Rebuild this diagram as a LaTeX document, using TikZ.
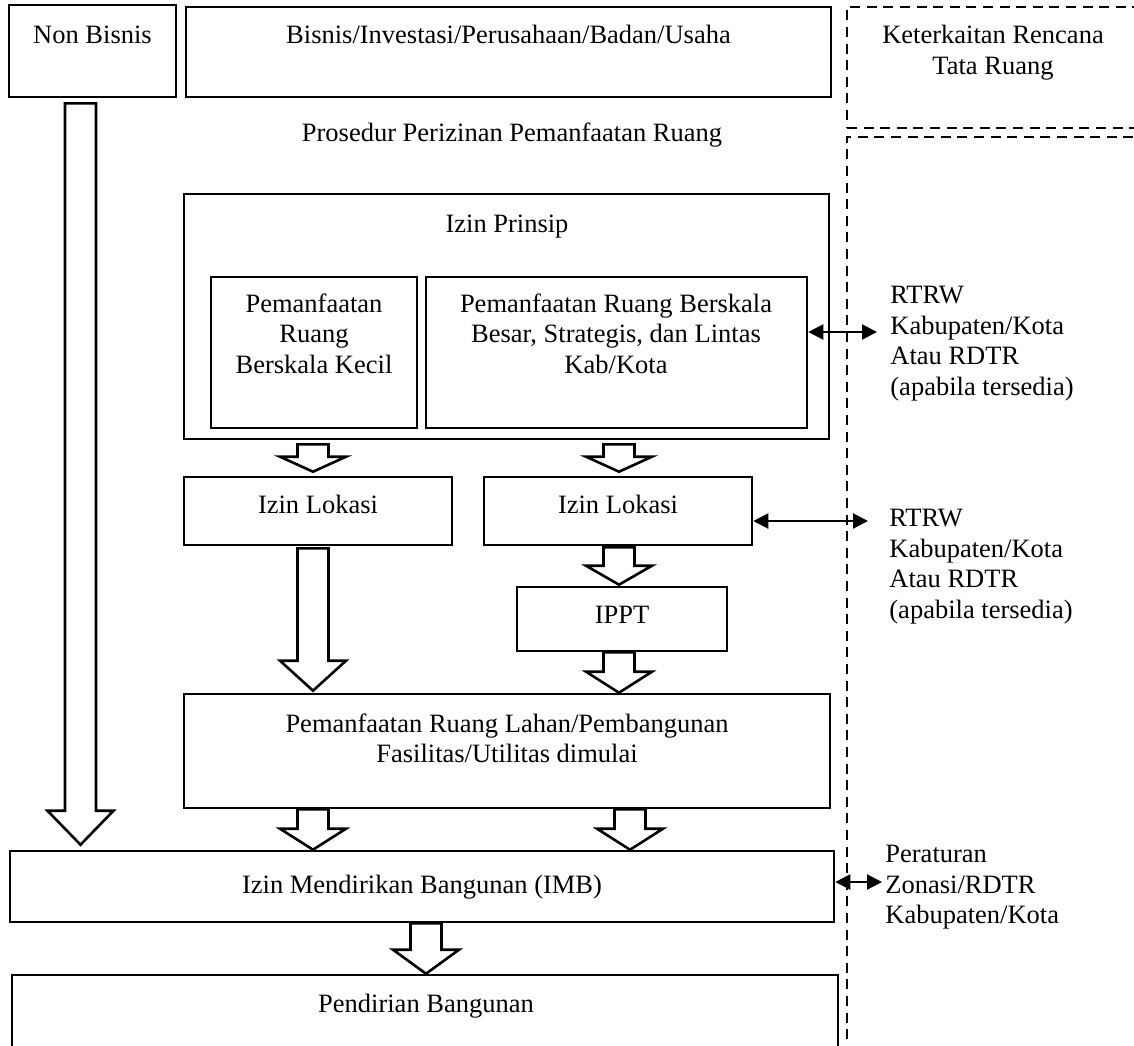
\documentclass[tikz,border=0pt]{standalone}
\usepackage{fontspec}
\setmainfont{Liberation Serif}
\usetikzlibrary{arrows.meta, calc, fit}

\newcommand{\hollowarrow}[5]{%
  \coordinate (ha) at ($(#2.south -| #1)+(0,#5)$);
  \coordinate (hb) at ($(#3.north -| #1)+(0,-#5)$);
  \draw[hollow] ($(ha)+(-15.5,0)$) -- ($(hb)+(-15.5,-#4)$) -- ($(hb)+(-33,-#4)$) -- (hb)
    -- ($(hb)+(33,-#4)$) -- ($(hb)+(15.5,-#4)$) -- ($(ha)+(15.5,0)$) -- cycle;
}

\begin{document}
\begin{tikzpicture}[x=0.5pt, y=-0.5pt,
    every node/.style={font=\fontsize{13.25pt}{15.25pt}\selectfont, inner sep=0pt},
    box/.style={draw, line width=1.3pt},
    guide/.style={line width=1.2pt, dash pattern=on 5pt off 3.3pt},
    hollow/.style={line width=1.3pt, line join=miter},
    twoway/.style={line width=1.1pt, {Triangle[length=7.5pt,width=7.5pt]}-{Triangle[length=7.5pt,width=7.5pt]}}]
    \useasboundingbox (0,0) rectangle (1134,1045);

    % boxes
    \node[box, fit={(9,5) (176,97)}] (nonbisnis) {};
    \node[anchor=base] (nonbisnisL) at (92.5,43) {Non Bisnis};
    \node[box, fit={(186,7) (831,97)}] (bisnis) {};
    \node[anchor=base] (bisnisL) at (508.5,43) {Bisnis/Investasi/Perusahaan/Badan/Usaha};
    \node[guide, draw, fit={(847,7) (1150,128)}] (kaitan) {};
    \node[anchor=north, align=center] (kaitanL) at (993,25) {Keterkaitan Rencana\\Tata Ruang};
    \draw[guide] (1150,137) -- (847,137) -- (847,1070);

    \node[anchor=base] (prosedur) at (512,141) {Prosedur Perizinan Pemanfaatan Ruang};

    \node[box, fit={(184,194) (829,439)}] (prinsip) {};
    \node[anchor=base] (prinsipL) at (507,232) {Izin Prinsip};
    \node[box, fit={(211,277) (417,428)}] (kecil) {};
    \node[anchor=north, align=center] (kecilL) at (314,293) {Pemanfaatan\\Ruang\\Berskala Kecil};
    \node[box, fit={(426,277) (807,428)}] (besar) {};
    \node[anchor=north, align=center] (besarL) at (616,293) {Pemanfaatan Ruang Berskala\\Besar, Strategis, dan Lintas\\Kab/Kota};

    \node[box, fit={(184,477) (452,545)}] (lokasiA) {};
    \node[anchor=base] (lokasiAL) at (318,513) {Izin Lokasi};
    \node[box, fit={(484,477) (752,545)}] (lokasiB) {};
    \node[anchor=base] (lokasiBL) at (618,513) {Izin Lokasi};
    \node[box, fit={(517,587) (727,651)}] (ippt) {};
    \node[anchor=base] (ipptL) at (622,623) {IPPT};

    \node[box, fit={(184,694) (830,808)}] (lahan) {};
    \node[anchor=north, align=center] (lahanL) at (507,713) {Pemanfaatan Ruang Lahan/Pembangunan\\Fasilitas/Utilitas dimulai};
    \node[box, fit={(10,851) (834,922)}] (imb) {};
    \node[anchor=base] (imbL) at (422,893) {Izin Mendirikan Bangunan (IMB)};
    \node[box, fit={(12,975) (838,1070)}] (pendirian) {};
    \node[anchor=base] (pendirianL) at (426,1012) {Pendirian Bangunan};

    % rencana tata ruang
    \node[anchor=north west, align=left] (rtrwA) at (890,286) {RTRW\\Kabupaten/Kota\\Atau RDTR\\(apabila tersedia)};
    \node[anchor=north west, align=left] (rtrwB) at (889,509) {RTRW\\Kabupaten/Kota\\Atau RDTR\\(apabila tersedia)};
    \node[anchor=north west, align=left] (zonasi) at (885,845) {Peraturan\\Zonasi/RDTR\\Kabupaten/Kota};
    \coordinate (tipA) at (877,332);
    \coordinate (tipB) at (868,521);
    \coordinate (tipC) at (882,882);
    \draw[twoway] (besar.east |- tipA) -- (tipA);
    \draw[twoway] (lokasiB.east |- tipB) -- (tipB);
    \draw[twoway] (imb.east |- tipC) -- (tipC);

    % block arrows
    \coordinate (colN) at (80.5,0);
    \coordinate (colA) at (313,0);
    \coordinate (colB) at (619,0);
    \coordinate (colC) at (630,0);
    \coordinate (colD) at (426,0);
    \hollowarrow{colN}{nonbisnis}{imb}{34}{5}
    \hollowarrow{colA}{prinsip}{lokasiA}{15}{4}
    \hollowarrow{colB}{prinsip}{lokasiB}{15}{4}
    \hollowarrow{colA}{lokasiA}{lahan}{30}{2}
    \hollowarrow{colB}{lokasiB}{ippt}{19}{1}
    \hollowarrow{colB}{ippt}{lahan}{21}{0}
    \hollowarrow{colA}{lahan}{imb}{21}{0}
    \hollowarrow{colC}{lahan}{imb}{21}{0}
    \hollowarrow{colD}{imb}{pendirian}{24}{0}
\end{tikzpicture}
\end{document}
